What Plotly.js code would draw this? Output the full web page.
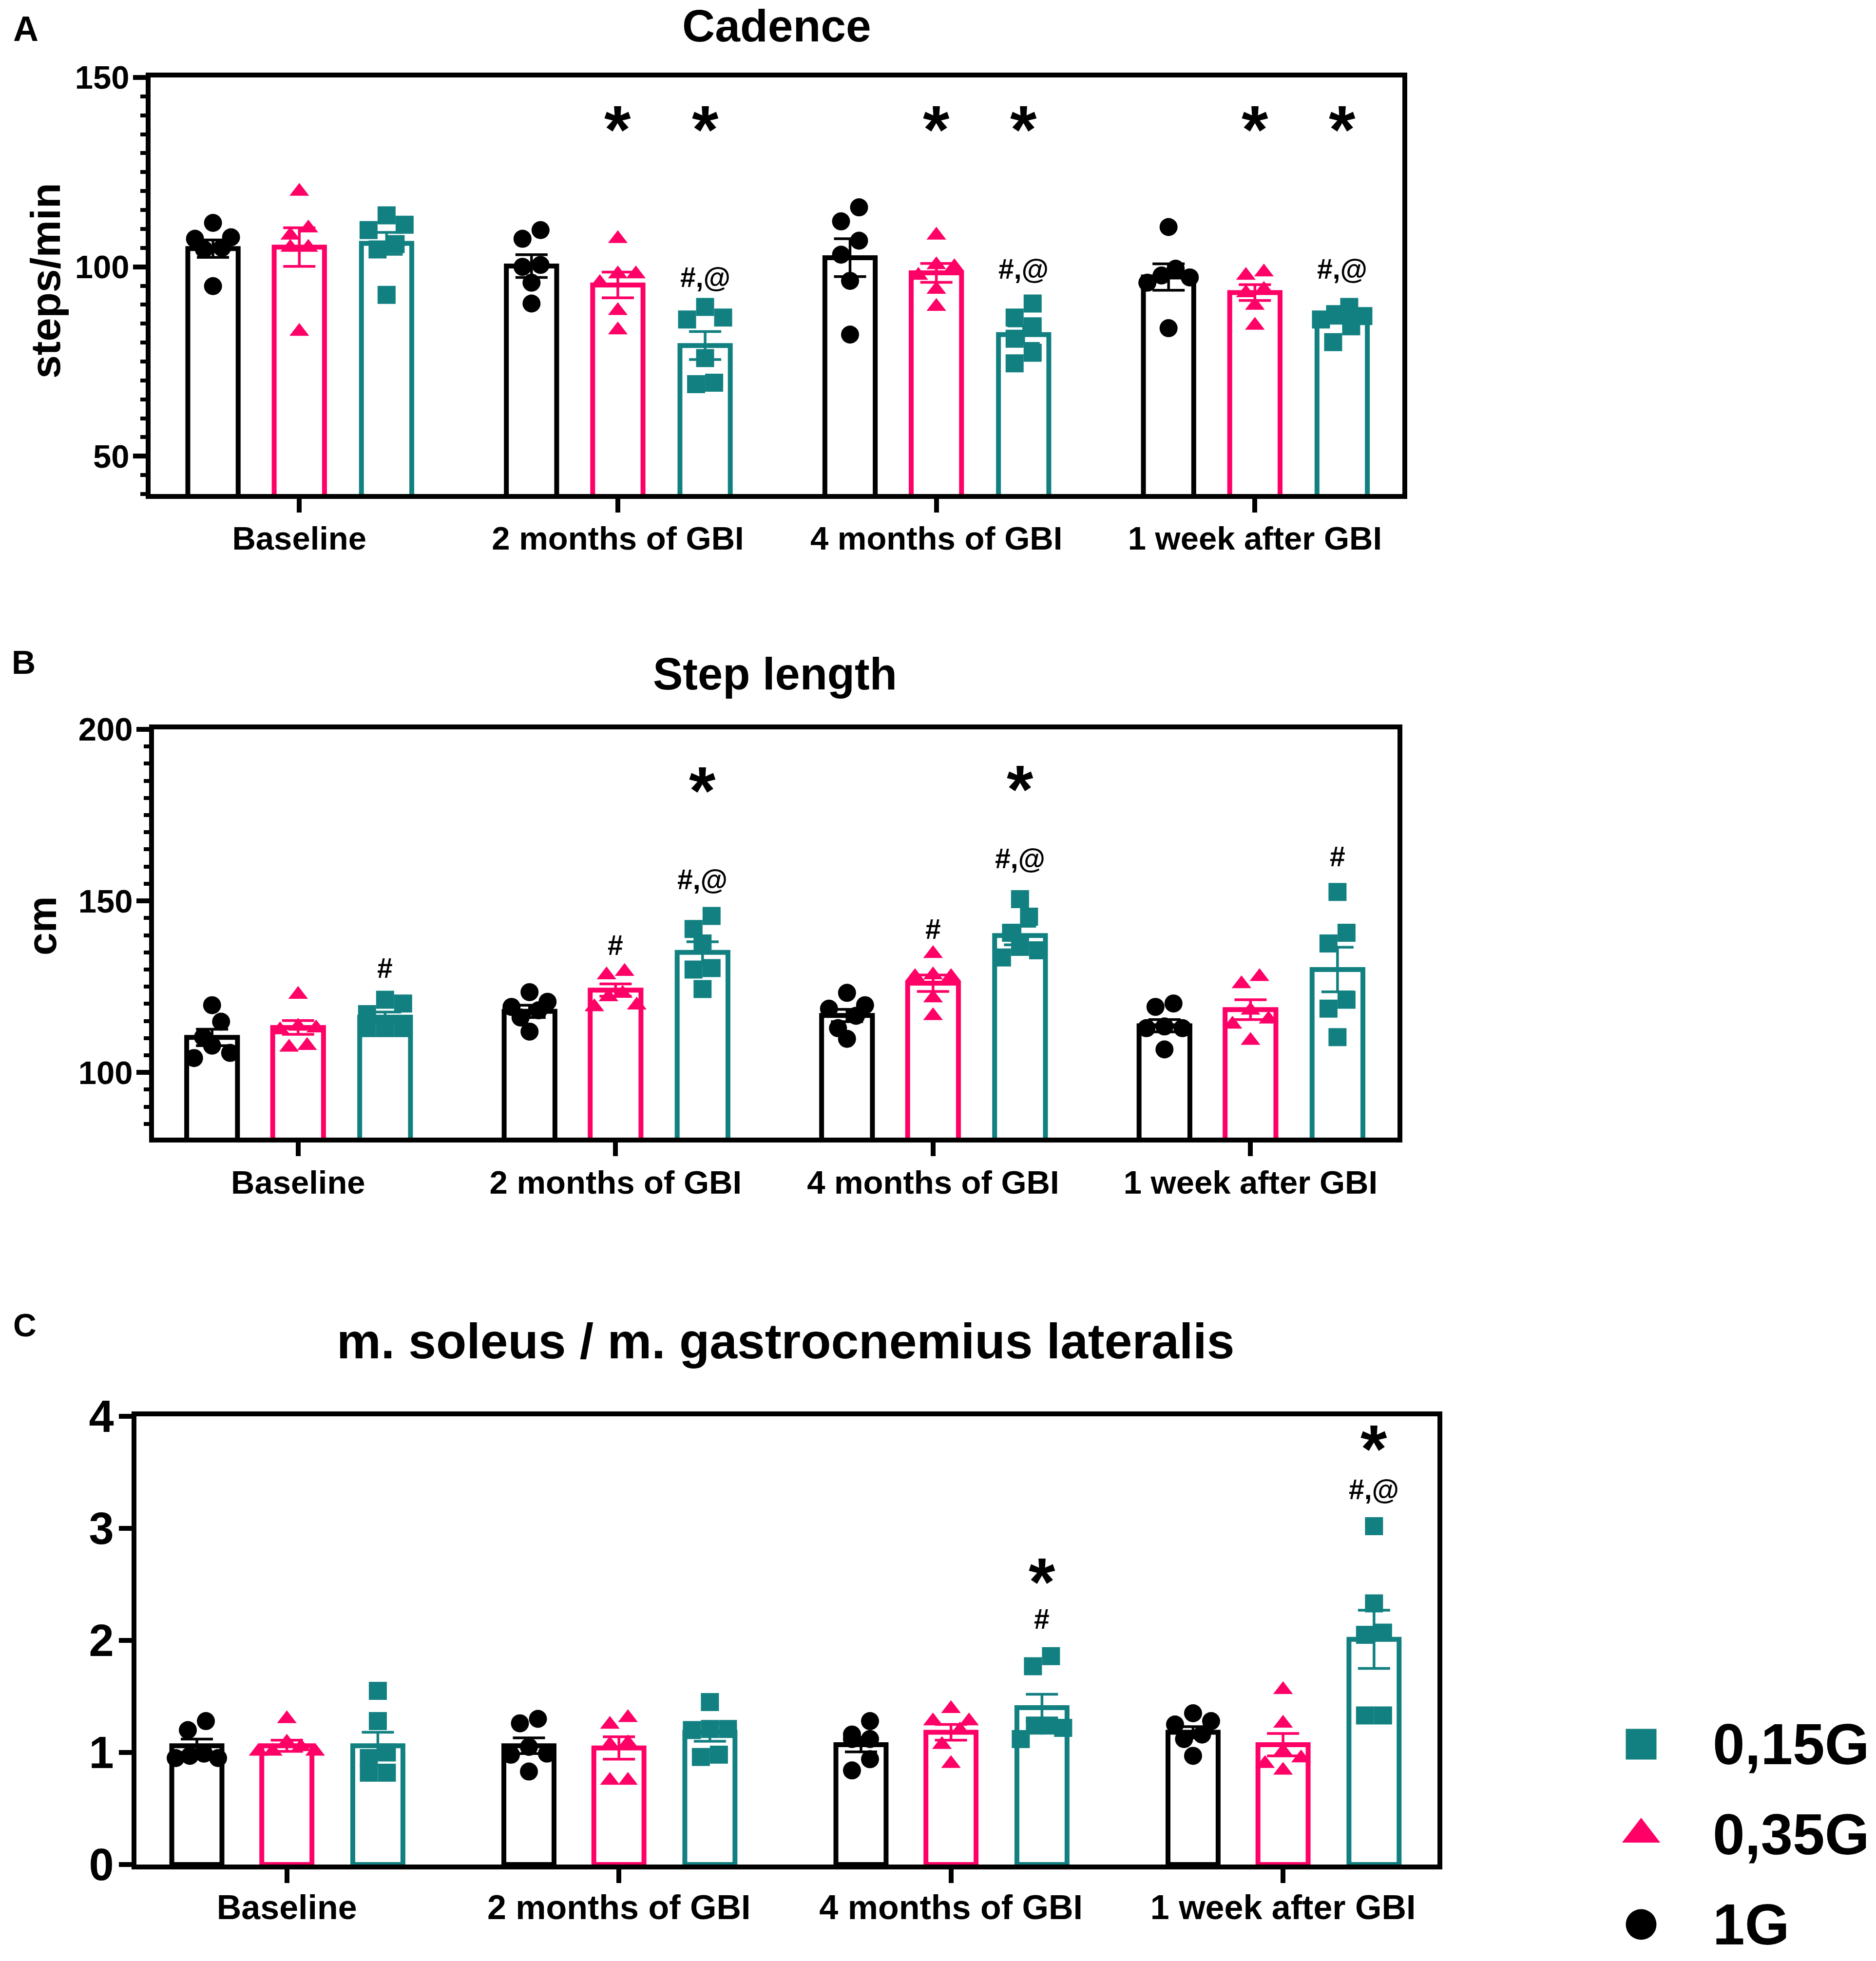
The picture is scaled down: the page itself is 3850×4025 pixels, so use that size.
<!DOCTYPE html>
<html><head><meta charset="utf-8">
<script src="https://cdn.plot.ly/plotly-3.0.1.min.js"></script>
<style>html,body{margin:0;padding:0;background:#fff}</style>
</head><body>
<div id="chart" style="width:3850px;height:4025px"></div>
<script>
const W = 3850, H = 4025;

// ---------- data ----------
const categories = ['Baseline', '2 months of GBI', '4 months of GBI', '1 week after GBI'];
const groupNames = ['1G', '0,35G', '0,15G'];
const legendOrder = [2, 1, 0];

// Panel A: Cadence (steps/min)
const cadMean1G  = [104.8, 100.2, 102.4, 97.3];
const cadSem1G   = [2.3, 3.0, 5.0, 3.5];
const cadMean035 = [105.2, 95.2, 98.4, 93.2];
const cadSem035  = [5.1, 3.4, 2.5, 2.1];
const cadMean015 = [106.2, 79.2, 82.1, 86.6];
const cadSem015  = [2.9, 3.7, 2.3, 1.5];
const cadPts1G = [
  [111.6, 107.8, 107.4, 105.0, 104.6, 94.9],
  [109.7, 107.4, 100.5, 100.0, 95.8, 90.3],
  [115.7, 112.0, 106.9, 103.2, 96.3, 82.1],
  [110.5, 99.5, 97.7, 97.2, 95.8, 83.8]];
const cadPts035 = [
  [119.9, 110.2, 108.3, 105.1, 105.1, 82.9],
  [107.4, 98.1, 98.1, 95.8, 88.4, 83.3],
  [108.3, 100.5, 100.0, 97.7, 94.0, 89.5],
  [98.6, 97.7, 94.0, 93.1, 89.8, 84.5]];
const cadPts015 = [
  [113.6, 111.1, 109.7, 106.0, 104.6, 92.6],
  [89.4, 86.6, 86.1, 75.9, 69.4, 69.0],
  [90.3, 86.6, 84.3, 81.0, 77.3, 74.5],
  [89.4, 87.5, 87.0, 86.1, 84.3, 80.1]];
const cadSig = [
  {c:1, g:1, y:137.7, t:'*'}, {c:1, g:2, y:137.7, t:'*'},
  {c:2, g:1, y:137.7, t:'*'}, {c:2, g:2, y:137.7, t:'*'},
  {c:3, g:1, y:137.7, t:'*'}, {c:3, g:2, y:137.7, t:'*'},
  {c:1, g:2, y:97.2, t:'#,@'}, {c:2, g:2, y:99.5, t:'#,@'}, {c:3, g:2, y:99.5, t:'#,@'}];

// Panel B: Step length (cm)
const stepMean1G  = [110.2, 117.8, 116.6, 113.6];
const stepSem1G   = [2.4, 1.8, 1.8, 1.8];
const stepMean035 = [113.1, 124.0, 126.0, 118.3];
const stepSem035  = [2.0, 1.8, 2.4, 2.9];
const stepMean015 = [116.1, 135.0, 139.9, 130.0];
const stepSem015  = [1.5, 3.1, 2.7, 6.5];
const stepPts1G = [
  [119.6, 114.8, 110.3, 107.8, 105.7, 104.2],
  [123.4, 120.6, 119.1, 118.1, 116.0, 111.9],
  [123.2, 119.6, 118.6, 116.5, 112.9, 109.8],
  [120.1, 119.1, 113.4, 112.9, 112.9, 106.7]];
const stepPts035 = [
  [122.7, 113.4, 112.9, 112.4, 107.8, 107.3],
  [129.4, 128.4, 123.0, 122.0, 119.6, 119.1],
  [134.6, 128.4, 127.9, 127.9, 121.7, 116.5],
  [127.9, 125.8, 118.1, 115.5, 114.0, 109.3]];
const stepPts015 = [
  [121.2, 120.1, 117.0, 112.9, 112.9, 112.9],
  [145.6, 141.8, 137.6, 130.4, 130.0, 124.3],
  [150.5, 145.4, 140.7, 136.6, 135.6, 133.5],
  [152.6, 140.7, 137.6, 121.2, 118.6, 110.3]];
const stepSig = [
  {c:1, g:2, y:183.8, t:'*'}, {c:2, g:2, y:184.1, t:'*'},
  {c:1, g:2, y:156.2, t:'#,@'}, {c:2, g:2, y:162.4, t:'#,@'},
  {c:0, g:2, y:130.4, t:'#'}, {c:1, g:1, y:137.1, t:'#'},
  {c:2, g:1, y:141.8, t:'#'}, {c:3, g:2, y:162.9, t:'#'}];

// Panel C: m. soleus / m. gastrocnemius lateralis
const ratioMean1G  = [1.06, 1.06, 1.07, 1.18];
const ratioSem1G   = [0.06, 0.07, 0.065, 0.05];
const ratioMean035 = [1.06, 1.04, 1.18, 1.07];
const ratioSem035  = [0.05, 0.10, 0.07, 0.10];
const ratioMean015 = [1.06, 1.18, 1.40, 2.01];
const ratioSem015  = [0.12, 0.08, 0.12, 0.26];
const ratioPts1G = [
  [1.28, 1.20, 0.99, 0.97, 0.95, 0.95],
  [1.30, 1.26, 1.05, 0.99, 0.98, 0.83],
  [1.28, 1.16, 1.12, 1.12, 0.94, 0.84],
  [1.35, 1.28, 1.25, 1.16, 1.12, 0.97]];
const ratioPts035 = [
  [1.30, 1.09, 1.05, 1.01, 1.01, 1.01],
  [1.31, 1.25, 1.085, 1.07, 0.75, 0.75],
  [1.39, 1.28, 1.28, 1.20, 1.07, 0.90],
  [1.56, 1.26, 1.01, 0.95, 0.90, 0.84]];
const ratioPts015 = [
  [1.55, 1.28, 1.00, 0.95, 0.82, 0.82],
  [1.45, 1.21, 1.21, 1.20, 0.98, 0.96],
  [1.86, 1.77, 1.24, 1.24, 1.22, 1.12],
  [3.02, 2.33, 2.07, 2.05, 1.33, 1.33]];
const ratioSig = [
  {c:2, g:2, y:2.57, t:'*'}, {c:2, g:2, y:2.19, t:'#'},
  {c:3, g:2, y:3.76, t:'*'}, {c:3, g:2, y:3.35, t:'#,@'}];

// ---------- styles / layout ----------
const colors  = ['#000000', '#FF0066', '#128080'];
const symbols = ['circle', 'triangle-up', 'square'];
const msize   = [37, 35, 37];
const groupOffset = [-0.271, 0, 0.274];
const LB = 'Liberation Sans, Arial, sans-serif';
const STAR_SIZE = 140, MARK_SIZE = 57;

const panels = [
  {xa:'x', ya:'y', xPx:[309, 2878], yPx:[159, 1014], xr:[-0.467, 3.463], yr:[40, 150], dtick:50, minor:5,
   means:[cadMean1G, cadMean035, cadMean015], sems:[cadSem1G, cadSem035, cadSem015],
   pts:[cadPts1G, cadPts035, cadPts015], sig:cadSig, barW:0.158, tickFont:67, catFont:67, catStand:-4, tickStand:-6},
  {xa:'x2', ya:'y2', xPx:[316, 2868], yPx:[1497, 2335], xr:[-0.454, 3.463], yr:[81, 200], dtick:50, minor:5,
   means:[stepMean1G, stepMean035, stepMean015], sems:[stepSem1G, stepSem035, stepSem015],
   pts:[stepPts1G, stepPts035, stepPts015], sig:stepSig, barW:0.16, tickFont:67, catFont:67, catStand:-3, tickStand:-6},
  {xa:'x3', ya:'y3', xPx:[280, 2950], yPx:[2907, 3827], xr:[-0.453, 3.465], yr:[0, 4], dtick:1, minor:null,
   means:[ratioMean1G, ratioMean035, ratioMean015], sems:[ratioSem1G, ratioSem035, ratioSem015],
   pts:[ratioPts1G, ratioPts035, ratioPts015], sig:ratioSig, barW:0.151, tickFont:92, catFont:70, catStand:-10, tickStand:-8}
];

// simple beeswarm: points close in value share a row and are spread sideways
function swarmOffsets(vals, pxPerUnitY, d) {
  const idx = vals.map((v, i) => i).sort((a, b) => vals[b] - vals[a]);
  const off = new Array(vals.length).fill(0);
  let row = [];
  const flush = () => {
    const k = row.length;
    const s = k >= 4 ? 29 : 37;
    row.forEach((ii, r) => {
      let pos;
      if (k % 2 === 1) pos = r === 0 ? 0 : (r % 2 === 1 ? Math.ceil(r / 2) : -Math.ceil(r / 2));
      else { const m = Math.floor(r / 2) + 0.5; pos = r % 2 === 0 ? m : -m; }
      off[ii] = pos * s;
    });
    row = [];
  };
  idx.forEach(ii => {
    if (row.length && (vals[row[0]] - vals[ii]) * pxPerUnitY >= d * 0.9) flush();
    row.push(ii);
  });
  flush();
  return off;
}

const traces = [];
const annotations = [];
const layout = {
  width: W, height: H, margin: {l:0, r:0, t:0, b:0},
  paper_bgcolor: '#fff', plot_bgcolor: 'rgba(0,0,0,0)',
  showlegend: false, barmode: 'overlay', annotations: annotations
};

panels.forEach((p, pi) => {
  const n = pi === 0 ? '' : String(pi + 1);
  const pxX = (p.xPx[1] - p.xPx[0]) / (p.xr[1] - p.xr[0]);
  const pxY = (p.yPx[1] - p.yPx[0]) / (p.yr[1] - p.yr[0]);
  for (let g = 0; g < 3; g++) {
    traces.push({
      type: 'bar', xaxis: p.xa, yaxis: p.ya, name: groupNames[g],
      x: categories.map((c, i) => i + groupOffset[g]), y: p.means[g], width: p.barW,
      marker: {color: 'rgba(255,255,255,0)', line: {color: colors[g], width: 10}},
      hoverinfo: 'skip', showlegend: false
    });
  }
  for (let g = 0; g < 3; g++) {
    const xs = [], ys = [];
    p.pts[g].forEach((vals, i) => {
      const off = swarmOffsets(vals, pxY, msize[g]);
      vals.forEach((v, k) => { xs.push(i + groupOffset[g] + off[k] / pxX); ys.push(v); });
    });
    traces.push({
      type: 'scatter', mode: 'markers', xaxis: p.xa, yaxis: p.ya, x: xs, y: ys, name: groupNames[g],
      marker: {symbol: symbols[g], size: msize[g], color: colors[g], line: {width: 0}},
      hoverinfo: 'skip', showlegend: false, cliponaxis: false
    });
  }
  for (let g = 0; g < 3; g++) {
    traces.push({
      type: 'scatter', mode: 'markers', xaxis: p.xa, yaxis: p.ya,
      x: categories.map((c, i) => i + groupOffset[g]), y: p.means[g],
      marker: {size: 1, opacity: 0},
      error_y: {type: 'data', array: p.sems[g], visible: true, color: colors[g], thickness: 5.5, width: 33},
      hoverinfo: 'skip', showlegend: false
    });
  }
  layout['xaxis' + n] = {
    domain: [p.xPx[0] / W, p.xPx[1] / W], range: p.xr, anchor: 'y' + n,
    tickmode: 'array', tickvals: categories.map((c, i) => i), ticktext: categories,
    ticks: 'outside', ticklen: 28, tickwidth: 10, tickcolor: '#000',
    showline: true, linewidth: 10, linecolor: '#000', mirror: true,
    showgrid: false, zeroline: false, ticklabelstandoff: p.catStand,
    tickfont: {family: LB, size: p.catFont, color: '#000', weight: 'bold'}
  };
  const ya = {
    domain: [1 - p.yPx[1] / H, 1 - p.yPx[0] / H], range: p.yr, anchor: 'x' + n,
    tickmode: 'linear', tick0: 0, dtick: p.dtick,
    ticks: 'outside', ticklen: 26, tickwidth: 10, tickcolor: '#000',
    showline: true, linewidth: 10, linecolor: '#000', mirror: true,
    showgrid: false, zeroline: false, ticklabelstandoff: p.tickStand,
    tickfont: {family: LB, size: p.tickFont, color: '#000', weight: 'bold'}
  };
  if (p.minor) ya.minor = {dtick: p.minor, tick0: 0, ticks: 'outside', ticklen: 11, tickwidth: 8, tickcolor: '#000', showgrid: false};
  layout['yaxis' + n] = ya;

  p.sig.forEach(s => {
    const star = s.t === '*';
    annotations.push({
      xref: p.xa, yref: p.ya, x: s.c + groupOffset[s.g], y: s.y, text: s.t, showarrow: false,
      xanchor: 'center', yanchor: 'middle', yshift: star ? -11 : 0,
      font: {family: LB, size: star ? STAR_SIZE : MARK_SIZE, color: '#000', weight: 'bold'}
    });
  });
});

function paperText(text, xpx, ypx, size, extra) {
  annotations.push(Object.assign({
    xref: 'paper', yref: 'paper', x: xpx / W, y: 1 - ypx / H, text: text, showarrow: false,
    xanchor: 'center', yanchor: 'middle', font: {family: LB, size: size, color: '#000', weight: 'bold'}
  }, extra || {}));
}
paperText('Cadence', 1594, 53, 93);
paperText('Step length', 1590, 1383, 92);
paperText('m. soleus / m. gastrocnemius lateralis', 1612, 2753, 102);
paperText('A', 53, 59, 72);
paperText('B', 48, 1359, 68);
paperText('C', 51, 2720, 66);
paperText('steps/min', 93, 577, 86, {textangle: -90});
paperText('cm', 86, 1901, 84, {textangle: -90});

// legend, drawn on a hidden helper axis pair (one row per group)
layout.xaxis4 = {domain: [(3368 - 100) / W, (3368 + 100) / W], range: [-1, 1], visible: false, anchor: 'y4', fixedrange: true};
layout.yaxis4 = {domain: [1 - 3987 / H, 1 - 3543 / H], range: [2.2, -0.2], visible: false, anchor: 'x4', fixedrange: true};
const legendSize = [63, 68, 63];
legendOrder.forEach((g, k) => {
  traces.push({
    type: 'scatter', mode: 'markers', xaxis: 'x4', yaxis: 'y4', x: [0], y: [k], name: groupNames[g],
    marker: {symbol: symbols[g], size: legendSize[g], color: colors[g]},
    hoverinfo: 'skip', showlegend: false, cliponaxis: false
  });
  annotations.push({
    xref: 'paper', yref: 'y4', x: 3513 / W, y: k, text: groupNames[g], showarrow: false,
    xanchor: 'left', yanchor: 'middle', font: {family: LB, size: 118, color: '#000', weight: 'bold'}
  });
});

Plotly.newPlot('chart', traces, layout, {staticPlot: true, displayModeBar: false});
</script>
</body></html>
